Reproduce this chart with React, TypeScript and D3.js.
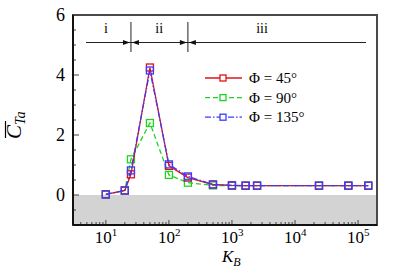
import * as d3 from 'd3';

// K_B sample values
const kValues = [10, 20, 25, 50, 100, 200, 500, 1000, 1650, 2500, 24000, 70000, 145000];

// mean thrust coefficient for each wall angle
const phi45 = [0.02, 0.15, 0.69, 4.25, 0.97, 0.58, 0.35, 0.32, 0.31, 0.31, 0.31, 0.31, 0.31];
const phi90 = [0.02, 0.15, 1.19, 2.4, 0.67, 0.41, 0.32, 0.31, 0.31, 0.31, 0.31, 0.31, 0.31];
const phi135 = [0.02, 0.15, 0.82, 4.15, 1.02, 0.62, 0.35, 0.32, 0.31, 0.31, 0.31, 0.31, 0.31];

const seriesNames = ['Φ = 45°', 'Φ = 90°', 'Φ = 135°'];
const seriesColors = ['#e3101a', '#1ed41e', '#3b3bff'];
const seriesDash = ['none', '5,3', '6,2,1.5,2'];

const yTicks = [0, 2, 4, 6];
const xTickExps = [1, 2, 3, 4, 5];

// regime boundaries and labels
const regimeBounds = [25, 200];
const regimeLabels = ['i', 'ii', 'iii'];
const regimeLabelK = [10, 70, 3000];

const W = 407;
const H = 272;
const FONT = 'Liberation Serif';

const left = 73;
const right = 377;
const top = 15;
const bottom = 225;

const App = () => {
  const x = d3.scaleLog().domain([Math.pow(10, 0.479), Math.pow(10, 5.3)]).range([left, right]);
  const y = d3.scaleLinear().domain([-1, 6]).range([bottom, top]);

  // minor + major x ticks
  const xTickVals: { v: number; major: boolean }[] = [];
  for (let e = 0; e <= 5; e++) {
    for (let m = 1; m < 10; m++) {
      const v = m * Math.pow(10, e);
      if (v < x.domain()[0] || v > x.domain()[1]) continue;
      xTickVals.push({ v, major: m === 1 });
    }
  }
  const yMinor = d3.range(-1, 6.01, 0.5);

  const allSeries = [phi45, phi90, phi135];
  const line = d3.line<number>()
    .x((_, i) => x(kValues[i]))
    .y(d => y(d));

  const arrowY = 42.5;
  const arrowPath = (tipX: number, dir: number) =>
    `M${tipX},${arrowY} L${tipX - dir * 7},${arrowY - 2.5} L${tipX - dir * 7},${arrowY + 2.5} Z`;

  return (
    <div style={{ position: 'absolute', left: 0, top: 0, width: W, height: H }}>
      <svg width={W} height={H} fontFamily={FONT}>
        <style>{`svg text, svg tspan { font-family: 'Liberation Serif', 'Times New Roman', serif !important; }`}</style>
        {/* grey negative region */}
        <rect x={left} y={y(0)} width={right - left} height={y(-1) - y(0)} fill="#d3d3d3" />

        {xTickVals.map(t => (
          <line key={'xt' + t.v} x1={x(t.v)} x2={x(t.v)} y1={bottom} y2={bottom - (t.major ? 5 : 3)}
            stroke="#444" strokeWidth={1} />
        ))}
        {yMinor.map(v => (
          <line key={'yt' + v} x1={left} x2={left + (Math.abs(v % 2) < 1e-6 ? 6 : 3)} y1={y(v)} y2={y(v)}
            stroke="#444" strokeWidth={1} />
        ))}

        {/* frame */}
        <rect x={left} y={top} width={right - left} height={bottom - top} fill="none" stroke="#4a4a4a" strokeWidth={2} />
        <line x1={left} x2={left} y1={top} y2={bottom} stroke="#111" strokeWidth={2} />
        <line x1={left} x2={right} y1={bottom} y2={bottom} stroke="#111" strokeWidth={2} />

        {yTicks.map(v => (
          <text key={'yl' + v} x={left - 8} y={y(v)} dy="0.35em" textAnchor="end" fontFamily={FONT} fontSize={18}>{v}</text>
        ))}
        {xTickExps.map(e => (
          <text key={'xl' + e} x={x(Math.pow(10, e)) - 11} y={243} fontFamily={FONT} fontSize={17}>
            10<tspan dy={-7} fontSize={11}>{e}</tspan>
          </text>
        ))}

        {/* axis titles */}
        <text x={222} y={262} fontFamily={FONT} fontSize={17} fontStyle="italic">
          K<tspan dy={4} fontSize={12}>B</tspan>
        </text>
        <g transform="translate(21, 139) rotate(-90)">
          <text x={0} y={0} fontFamily={FONT} fontSize={21} fontStyle="italic">
            C<tspan dy={4} fontSize={14}>Ta</tspan>
          </text>
          <line x1={1} x2={18} y1={-15.5} y2={-15.5} stroke="#000" strokeWidth={1.2} />
        </g>

        {/* regime annotations */}
        {regimeBounds.map(b => (
          <line key={'rb' + b} x1={x(b)} x2={x(b)} y1={22} y2={52} stroke="#222" strokeWidth={1} />
        ))}
        <line x1={86} x2={366} y1={arrowY} y2={arrowY} stroke="#222" strokeWidth={1} />
        {regimeBounds.map(b => (
          <g key={'ar' + b}>
            <path d={arrowPath(x(b) - 1, 1)} fill="#111" />
            <path d={arrowPath(x(b) + 1, -1)} fill="#111" />
          </g>
        ))}
        {regimeLabels.map((lab, i) => (
          <text key={lab} x={x(regimeLabelK[i])} y={33} textAnchor="middle" fontFamily={FONT} fontSize={14}>{lab}</text>
        ))}

        {/* series */}
        {[1, 0, 2].map(si => (
          <g key={'s' + si}>
            <path d={line(allSeries[si]) ?? ''} fill="none" stroke={seriesColors[si]} strokeWidth={1.3}
              strokeDasharray={seriesDash[si]} />
            {allSeries[si].map((d, i) => (
              <rect key={i} x={x(kValues[i]) - 3.5} y={y(d) - 3.5} width={7} height={7}
                fill="none" stroke={seriesColors[si]} strokeWidth={1.3} />
            ))}
          </g>
        ))}

        {/* legend */}
        <g transform="translate(205, 78)">
          {seriesNames.map((name, i) => (
            <g key={name} transform={`translate(0, ${i * 19.6})`}>
              <line x1={0} x2={37} y1={0} y2={0} stroke={seriesColors[i]} strokeWidth={1.3}
                strokeDasharray={seriesDash[i]} />
              <rect x={15} y={-3} width={6} height={6} fill="white" stroke={seriesColors[i]} strokeWidth={1.3} />
              <text x={44} y={0} dy="0.35em" fontFamily={FONT} fontSize={15}>{name}</text>
            </g>
          ))}
        </g>
      </svg>
    </div>
  );
};

export default App;
